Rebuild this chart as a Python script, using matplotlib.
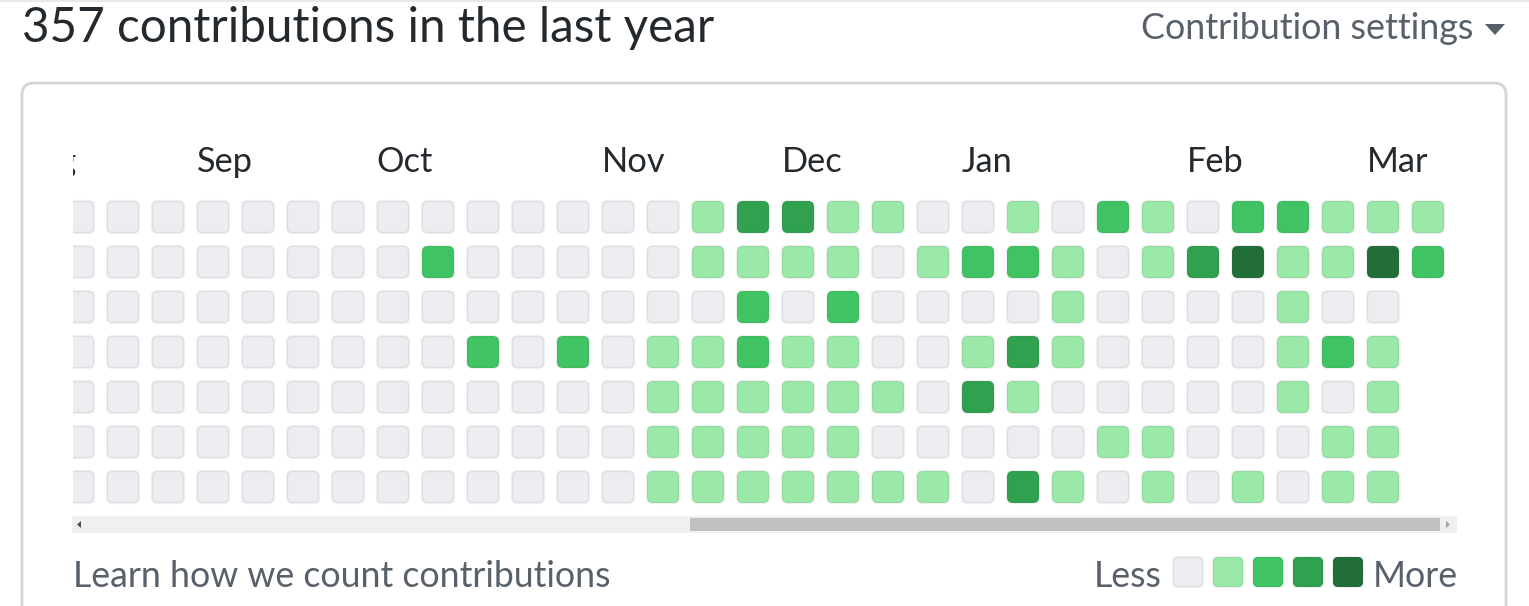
import matplotlib
matplotlib.use("Agg")
import matplotlib.pyplot as plt
from matplotlib.patches import FancyBboxPatch, Rectangle, Polygon

plt.rcParams['font.family'] = ['Lato', 'DejaVu Sans']

# Datos: nivel de contribución por día (filas = domingo..sábado, columnas = semanas)
sun = [0]*14 + [1, 3, 3, 1, 1, 0, 0, 1, 0, 2, 1, 0, 2, 2, 1, 1, 1]
mon = [0]*8 + [2] + [0]*5 + [1, 1, 1, 1, 0, 1, 2, 2, 1, 0, 1, 3, 4, 1, 1, 4, 2]
tue = [0]*15 + [2, 0, 2, 0, 0, 0, 0, 1, 0, 0, 0, 0, 1, 0, 0, None]
wed = [0]*9 + [2, 0, 2, 0, 1, 1, 2, 1, 1, 0, 0, 1, 3, 1, 0, 0, 0, 0, 1, 2, 1, None]
thu = [0]*13 + [1, 1, 1, 1, 1, 1, 0, 3, 1, 0, 0, 0, 0, 0, 1, 0, 1, None]
fri = [0]*13 + [1, 1, 1, 1, 1, 0, 0, 0, 0, 0, 1, 1, 0, 0, 0, 1, 1, None]
sat = [0]*13 + [1, 1, 1, 1, 1, 1, 1, 0, 3, 1, 0, 1, 0, 1, 0, 1, 1, None]
dias = [sun, mon, tue, wed, thu, fri, sat]

meses = ["Aug", "Sep", "Oct", "Nov", "Dec", "Jan", "Feb", "Mar"]
semana_mes = [-1, 3, 7, 12, 16, 20, 25, 29]

colores = ["#ebedf0", "#9be9a8", "#40c463", "#30a14e", "#216e39"]
total = 357

W, H = 1529, 606
fig = plt.figure(figsize=(W/100, H/100), dpi=100)
fig.patch.set_facecolor("white")

# Ejes de página en píxeles (decoración)
page = fig.add_axes([0, 0, 1, 1])
page.set_xlim(0, W)
page.set_ylim(H, 0)
page.axis("off")

gris = "#586069"
negro = "#24292e"
borde = (27/255, 31/255, 35/255, 0.07)

page.axhline(1, color="#e1e4e8", lw=1.2)

caja = FancyBboxPatch((22, 83), 1484, 600, boxstyle="round,pad=0,rounding_size=12",
                      fc="none", ec="#d1d5da", lw=2.0)
page.add_patch(caja)

r = fig.canvas.get_renderer()

def ajustar(t, ancho):
    w = t.get_window_extent(r).width
    t.set_fontsize(t.get_fontsize() * ancho / w)

t = page.text(22, 42, f"{total} contributions in the last year", fontsize=30,
              color=negro, va="baseline", ha="left")
ajustar(t, 691)
t = page.text(1473, 39, "Contribution settings", fontsize=24, color=gris,
              va="baseline", ha="right")
ajustar(t, 333)
page.add_patch(Polygon([[1485, 24], [1505, 24], [1495, 35]], closed=True, fc=gris, ec="none"))

# Barra de desplazamiento
page.add_patch(Rectangle((72, 516), 1385, 17, fc="#f0f0f0", ec="none"))
page.add_patch(Rectangle((690, 518), 750, 13, fc="#c1c1c1", ec="none"))
page.add_patch(Polygon([[77, 524.5], [81, 521], [81, 528]], closed=True, fc="#505050", ec="none"))
page.add_patch(Polygon([[1450, 524.5], [1446, 521], [1446, 528]], closed=True, fc="#a3a3a3", ec="none"))

# Pie
t = page.text(73, 587, "Learn how we count contributions", fontsize=23, color=gris,
              va="baseline", ha="left")
ajustar(t, 538)
fs_pie = t.get_fontsize()
page.text(1162, 587, "Less", fontsize=fs_pie, color=gris, va="baseline", ha="right")
page.text(1373, 587, "More", fontsize=fs_pie, color=gris, va="baseline", ha="left")
for k, c in enumerate(colores):
    page.add_patch(FancyBboxPatch((1173 + 40*k, 557), 30, 30,
                                  boxstyle="round,pad=0,rounding_size=5",
                                  fc=c, ec=borde, lw=1.5))

# Ejes de la cuadrícula: una unidad = una semana / un día (45 px)
x0, x1, y0, y1 = 73, 1457, 135, 508
ax = fig.add_axes([x0/W, 1 - y1/H, (x1 - x0)/W, (y1 - y0)/H])
ax.set_xlim((x0 - 78)/45, (x1 - 78)/45)
ax.set_ylim((y1 - 217)/45, (y0 - 217)/45)
ax.axis("off")

lado = 0.71
for fila, valores in enumerate(dias):
    for sem, nivel in enumerate(valores):
        if nivel is None:
            continue
        ax.add_patch(FancyBboxPatch((sem - lado/2, fila - lado/2), lado, lado,
                                    boxstyle="round,pad=0,rounding_size=0.13",
                                    fc=colores[nivel], ec=borde, lw=1.6))

etiquetas = []
for m, s in zip(meses, semana_mes):
    etiquetas.append(ax.text(s - 0.36, -1.0, m, fontsize=22, color=negro,
                             va="baseline", ha="left", clip_on=True))
w_sep = etiquetas[1].get_window_extent(r).width
for e in etiquetas:
    e.set_fontsize(22 * 56 / w_sep)

fig.savefig("out.png", dpi=100)
